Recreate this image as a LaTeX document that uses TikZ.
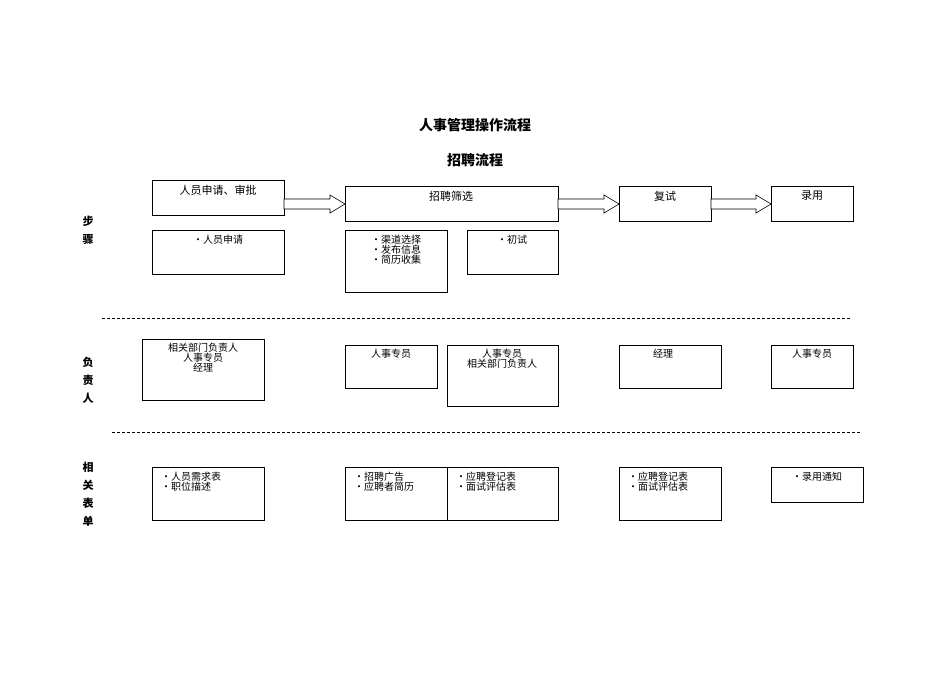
\documentclass[tikz,border=0pt]{standalone}
\usepackage{fontspec}
\setmainfont{Noto Sans CJK SC}
\begin{document}
\begin{tikzpicture}[x=1pt,y=-1pt,
  bx/.style={draw,line width=0.6pt,rectangle},
  tx/.style={anchor=north,font=\fontsize{10}{11}\selectfont,align=center,inner sep=0pt},
  lt/.style={anchor=north west,font=\fontsize{10}{11}\selectfont,align=left,inner sep=0pt},
  side/.style={font=\fontsize{11}{18}\selectfont\bfseries,align=center},
  dl/.style={dashed,line width=0.5pt,dash pattern=on 3pt off 2pt},
  ar/.style={draw,line width=0.6pt,fill=white}]
\useasboundingbox (0,0) rectangle (950,672);
\newcommand{\blk}[3]{% x1 x2 y
  \draw[ar] (#1,#3-5)--(#2-15,#3-5)--(#2-15,#3-9)--(#2,#3)--(#2-15,#3+9)--(#2-15,#3+5)--(#1,#3+5)--cycle;}
\node[font=\fontsize{14}{16}\selectfont\bfseries] (t1) at (475,125) {人事管理操作流程};
\node[font=\fontsize{14}{16}\selectfont\bfseries] (t2) at (475,160) {招聘流程};
% row 1
\draw[bx] (152,180) rectangle (284,215); \node[tx,font=\fontsize{11}{12}\selectfont] (s1) at (218,185) {人员申请、审批};
\draw[bx] (345,186) rectangle (558,221); \node[tx,font=\fontsize{11}{12}\selectfont] (s2) at (451,191) {招聘筛选};
\draw[bx] (619,186) rectangle (711,221); \node[tx,font=\fontsize{11}{12}\selectfont] (s3) at (665,191) {复试};
\draw[bx] (771,186) rectangle (853,221); \node[tx,font=\fontsize{11}{12}\selectfont] (s4) at (812,191) {录用};
\blk{284}{345}{204}
\blk{558}{619}{204}
\blk{711}{771}{204}
% row 2
\draw[bx] (152,230) rectangle (284,274); \node[tx] (d1) at (218,235) {•人员申请};
\draw[bx] (345,230) rectangle (447,292); \node[tx,align=left] (d2) at (396,235) {•渠道选择\\[-1pt]•发布信息\\[-1pt]•简历收集};
\draw[bx] (467,230) rectangle (558,274); \node[tx] (d3) at (512,235) {•初试};
\draw[dl] (102,318) -- (851,318);
% row 3
\draw[bx] (142,339) rectangle (264,400); \node[tx] (r1) at (203,343) {相关部门负责人\\[-1pt]人事专员\\[-1pt]经理};
\draw[bx] (345,345) rectangle (437,388); \node[tx] (r2) at (391,349) {人事专员};
\draw[bx] (447,345) rectangle (558,406); \node[tx] (r3) at (502,349) {人事专员\\[-1pt]相关部门负责人};
\draw[bx] (619,345) rectangle (721,388); \node[tx] (r4) at (663,349) {经理};
\draw[bx] (771,345) rectangle (853,388); \node[tx] (r5) at (812,349) {人事专员};
\draw[dl] (112,432) -- (861,432);
% row 4
\draw[bx] (152,467) rectangle (264,520); \node[lt] (f1) at (161,472) {•人员需求表\\[-1pt]•职位描述};
\draw[bx] (345,467) rectangle (447,520); \node[lt] (f2) at (354,472) {•招聘广告\\[-1pt]•应聘者简历};
\draw[bx] (447,467) rectangle (558,520); \node[lt] (f3) at (456,472) {•应聘登记表\\[-1pt]•面试评估表};
\draw[bx] (619,467) rectangle (721,520); \node[lt] (f4) at (628,472) {•应聘登记表\\[-1pt]•面试评估表};
\draw[bx] (771,467) rectangle (863,502); \node[tx] (f5) at (817,472) {•录用通知};
% side labels
\node[side] (l1) at (88,230) {步\\骤};
\node[side] (l2) at (88,380) {负\\责\\人};
\node[side] (l3) at (88,494) {相\\关\\表\\单};
\end{tikzpicture}
\end{document}
